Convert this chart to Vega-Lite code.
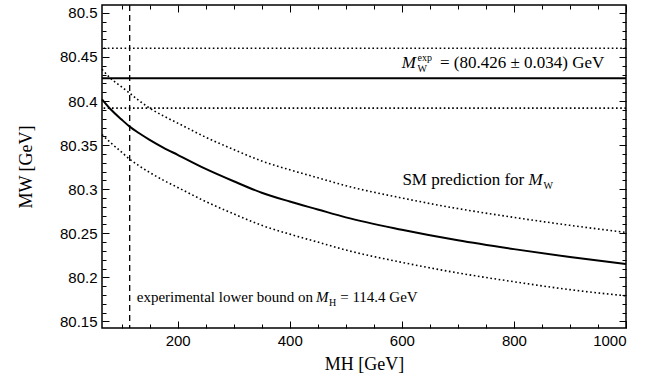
{
  "$schema": "https://vega.github.io/schema/vega-lite/v6.json",
  "width": 524,
  "height": 323,
  "autosize": {"type": "none"},
  "padding": {"left": 102, "top": 5, "right": 41, "bottom": 49},
  "background": "white",
  "config": {
    "view": {"stroke": "black", "strokeWidth": 1.5},
    "axis": {"domain": false, "grid": false, "tickColor": "black", "labelColor": "black", "titleColor": "black", "labelFont": "Liberation Sans", "labelFontSize": 15, "titleFont": "Liberation Serif", "titleFontSize": 18, "titleFontWeight": "normal"}
  },
  "data": {"values": [
    {"mh": 65, "c": 80.402, "hi": 80.436, "lo": 80.362},
    {"mh": 80, "c": 80.391, "hi": 80.426, "lo": 80.353},
    {"mh": 100, "c": 80.379, "hi": 80.416, "lo": 80.342},
    {"mh": 114.4, "c": 80.371, "hi": 80.409, "lo": 80.334},
    {"mh": 130, "c": 80.364, "hi": 80.401, "lo": 80.327},
    {"mh": 150, "c": 80.356, "hi": 80.392, "lo": 80.319},
    {"mh": 175, "c": 80.347, "hi": 80.383, "lo": 80.310},
    {"mh": 200, "c": 80.339, "hi": 80.375, "lo": 80.302},
    {"mh": 250, "c": 80.323, "hi": 80.359, "lo": 80.286},
    {"mh": 300, "c": 80.309, "hi": 80.345, "lo": 80.272},
    {"mh": 350, "c": 80.296, "hi": 80.332, "lo": 80.259},
    {"mh": 400, "c": 80.286, "hi": 80.322, "lo": 80.249},
    {"mh": 450, "c": 80.277, "hi": 80.313, "lo": 80.240},
    {"mh": 500, "c": 80.268, "hi": 80.304, "lo": 80.231},
    {"mh": 600, "c": 80.254, "hi": 80.290, "lo": 80.217},
    {"mh": 700, "c": 80.242, "hi": 80.278, "lo": 80.205},
    {"mh": 800, "c": 80.232, "hi": 80.268, "lo": 80.195},
    {"mh": 900, "c": 80.223, "hi": 80.259, "lo": 80.186},
    {"mh": 1000, "c": 80.215, "hi": 80.251, "lo": 80.179}
  ]},
  "resolve": {"axis": {"x": "independent", "y": "independent"}},
  "layer": [
    {
      "mark": {"type": "line", "color": "black", "strokeWidth": 2, "interpolate": "monotone"},
      "encoding": {
        "x": {"field": "mh", "type": "quantitative", "scale": {"domain": [65, 1000], "nice": false, "zero": false},
              "axis": {"orient": "bottom", "values": [200, 400, 600, 800, 1000], "format": "d", "tickSize": -7, "labelPadding": 12, "title": "MH [GeV]", "titlePadding": 7}},
        "y": {"field": "c", "type": "quantitative", "scale": {"domain": [80.1425, 80.509], "nice": false, "zero": false},
              "axis": {"orient": "left", "values": [80.15, 80.2, 80.25, 80.3, 80.35, 80.4, 80.45, 80.5], "format": "~g", "tickSize": -7, "labelPadding": 12, "title": "MW [GeV]", "titlePadding": 24}}
      }
    },
    {
      "mark": {"type": "line", "color": "black", "strokeWidth": 1.6, "strokeDash": [1.6, 2.6], "interpolate": "monotone"},
      "encoding": {
        "x": {"field": "mh", "type": "quantitative", "axis": {"orient": "top", "values": [200, 400, 600, 800, 1000], "labels": false, "tickSize": -7, "title": null}},
        "y": {"field": "hi", "type": "quantitative", "axis": {"orient": "right", "values": [80.15, 80.2, 80.25, 80.3, 80.35, 80.4, 80.45, 80.5], "labels": false, "tickSize": -7, "title": null}}
      }
    },
    {
      "mark": {"type": "line", "color": "black", "strokeWidth": 1.6, "strokeDash": [1.6, 2.6], "interpolate": "monotone"},
      "encoding": {
        "x": {"field": "mh", "type": "quantitative", "axis": {"orient": "bottom", "values": [100, 150, 250, 300, 350, 450, 500, 550, 650, 700, 750, 850, 900, 950], "labels": false, "tickSize": -4, "title": null}},
        "y": {"field": "lo", "type": "quantitative", "axis": {"orient": "left", "values": [80.16, 80.17, 80.18, 80.19, 80.21, 80.22, 80.23, 80.24, 80.26, 80.27, 80.28, 80.29, 80.31, 80.32, 80.33, 80.34, 80.36, 80.37, 80.38, 80.39, 80.41, 80.42, 80.43, 80.44, 80.46, 80.47, 80.48, 80.49], "labels": false, "tickSize": -4, "title": null}}
      }
    },
    {
      "data": {"values": [{"b": 114.4}]},
      "mark": {"type": "rule", "color": "black", "strokeWidth": 1.3, "strokeDash": [6, 4]},
      "encoding": {
        "x": {"field": "b", "type": "quantitative", "axis": {"orient": "top", "values": [100, 150, 250, 300, 350, 450, 500, 550, 650, 700, 750, 850, 900, 950], "labels": false, "tickSize": -4, "title": null}}
      }
    },
    {
      "data": {"values": [{"v": 80.46}, {"v": 80.392}]},
      "mark": {"type": "rule", "color": "black", "strokeWidth": 1.6, "strokeDash": [1.6, 2.6]},
      "encoding": {
        "y": {"field": "v", "type": "quantitative", "axis": {"orient": "right", "values": [80.16, 80.17, 80.18, 80.19, 80.21, 80.22, 80.23, 80.24, 80.26, 80.27, 80.28, 80.29, 80.31, 80.32, 80.33, 80.34, 80.36, 80.37, 80.38, 80.39, 80.41, 80.42, 80.43, 80.44, 80.46, 80.47, 80.48, 80.49], "labels": false, "tickSize": -4, "title": null}}
      }
    },
    {
      "data": {"values": [{"v": 80.426}]},
      "mark": {"type": "rule", "color": "black", "strokeWidth": 2},
      "encoding": {
        "y": {"field": "v", "type": "quantitative", "axis": null}
      }
    },
    {
      "data": {"values": [
        {"t": "= (80.426 ± 0.034) GeV", "x": 668, "y": 80.4375},
        {"t": "SM prediction for", "x": 601, "y": 80.305}
      ]},
      "mark": {"type": "text", "font": "Liberation Serif", "fontSize": 17, "align": "left", "baseline": "alphabetic", "color": "black"},
      "encoding": {
        "x": {"field": "x", "type": "quantitative", "axis": null},
        "y": {"field": "y", "type": "quantitative", "axis": null},
        "text": {"field": "t"}
      }
    },
    {
      "data": {"values": [
        {"t": "M", "x": 600, "y": 80.4375},
        {"t": "M", "x": 826, "y": 80.305}
      ]},
      "mark": {"type": "text", "font": "Liberation Serif", "fontSize": 17, "fontStyle": "italic", "align": "left", "baseline": "alphabetic", "color": "black"},
      "encoding": {
        "x": {"field": "x", "type": "quantitative", "axis": null},
        "y": {"field": "y", "type": "quantitative", "axis": null},
        "text": {"field": "t"}
      }
    },
    {
      "data": {"values": [
        {"t": "experimental lower bound on", "x": 127, "y": 80.172},
        {"t": "= 114.4 GeV", "x": 490, "y": 80.172}
      ]},
      "mark": {"type": "text", "font": "Liberation Serif", "fontSize": 15, "align": "left", "baseline": "alphabetic", "color": "black"},
      "encoding": {
        "x": {"field": "x", "type": "quantitative", "axis": null},
        "y": {"field": "y", "type": "quantitative", "axis": null},
        "text": {"field": "t"}
      }
    },
    {
      "data": {"values": [
        {"t": "M", "x": 447, "y": 80.172}
      ]},
      "mark": {"type": "text", "font": "Liberation Serif", "fontSize": 15, "fontStyle": "italic", "align": "left", "baseline": "alphabetic", "color": "black"},
      "encoding": {
        "x": {"field": "x", "type": "quantitative", "axis": null},
        "y": {"field": "y", "type": "quantitative", "axis": null},
        "text": {"field": "t"}
      }
    },
    {
      "data": {"values": [
        {"t": "W", "x": 628, "y": 80.4375},
        {"t": "W", "x": 853, "y": 80.305},
        {"t": "H", "x": 470, "y": 80.172}
      ]},
      "mark": {"type": "text", "font": "Liberation Serif", "fontSize": 10, "align": "left", "baseline": "alphabetic", "dy": 4, "color": "black"},
      "encoding": {
        "x": {"field": "x", "type": "quantitative", "axis": null},
        "y": {"field": "y", "type": "quantitative", "axis": null},
        "text": {"field": "t"}
      }
    },
    {
      "data": {"values": [
        {"t": "exp", "x": 628, "y": 80.4375}
      ]},
      "mark": {"type": "text", "font": "Liberation Serif", "fontSize": 10, "align": "left", "baseline": "alphabetic", "dy": -7, "color": "black"},
      "encoding": {
        "x": {"field": "x", "type": "quantitative", "axis": null},
        "y": {"field": "y", "type": "quantitative", "axis": null},
        "text": {"field": "t"}
      }
    }
  ]
}
